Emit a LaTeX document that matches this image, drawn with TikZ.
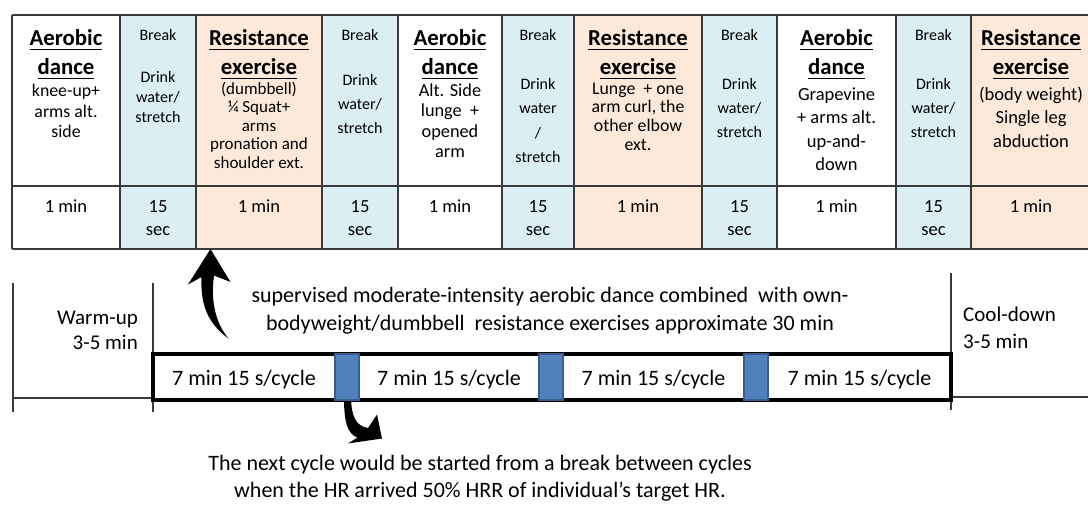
\documentclass[tikz,border=0pt]{standalone}
\usepackage{fontspec}
\setmainfont{Carlito}
\definecolor{brk}{HTML}{DAEEF3}
\definecolor{res}{HTML}{FDE9D9}
\definecolor{bfill}{HTML}{4F81BD}
\definecolor{bline}{HTML}{385D8A}
\definecolor{grid}{HTML}{3A3A3A}
\newcommand\fz[2]{\fontsize{#1}{#2}\selectfont}
\newcommand\st{\rule{0pt}{20pt}}
\newcommand\myul[1]{\setbox0\hbox{#1}\rlap{\rule[-5pt]{\wd0}{1.3pt}}\box0}
\tikzset{
  hd/.style={font=\fz{22.8}{29}\bfseries, align=center, anchor=north, inner sep=0pt},
  bd/.style={align=center, anchor=north, inner sep=0pt},
  brktxt/.style={bd, font=\fz{16}{20}},
  dur/.style={bd, font=\fz{18.5}{23}},
  gridline/.style={draw=grid, line width=1.4pt},
  thin/.style={draw=grid, line width=1.2pt},
  seg/.style={inner sep=0pt, anchor=north, font=\fz{22}{27}},
  brkblock/.style={fill=bfill, draw=bline, line width=1.5pt, minimum width=24pt, minimum height=46pt, inner sep=0pt},
  arrowshape/.style={fill=black, draw=none},
  txt/.style={align=center, anchor=north, inner sep=0pt, font=\fz{22}{28}}
}
\begin{document}
\begin{tikzpicture}[x=1pt,y=-1pt]
\useasboundingbox (0,0) rectangle (1088,504);
% ---- table fills
\fill[brk] (120,15) rectangle (196,249);
\fill[res] (196,15) rectangle (322,249);
\fill[brk] (322,15) rectangle (398,249);
\fill[brk] (502,15) rectangle (574,249);
\fill[res] (574,15) rectangle (702,249);
\fill[brk] (702,15) rectangle (777,249);
\fill[brk] (896,15) rectangle (971,249);
\fill[res] (971,15) rectangle (1088,249);
% ---- table grid
\draw[gridline] (12,15) -- (1088,15);
\draw[gridline] (12,186) -- (1088,186);
\draw[gridline] (12,249) -- (1088,249);
\foreach \x in {12,120,196,322,398,502,574,702,777,896,971}
  \draw[gridline] (\x,15) -- (\x,249);
% ---- column 0: aerobic
\node[hd] (h0) at (66,25) {\st\myul{Aerobic}\\\myul{dance}};
\node[bd, font=\fz{17.8}{20.5}] (t0) at (66,76.5) {\st knee-up+\\arms alt.\\side};
% ---- column 1: break
\node[brktxt] (k1) at (158,20) {\st Break};
\node[brktxt] (t1) at (158,62) {\st Drink\\water/\\stretch};
% ---- column 2: resistance
\node[hd] (h2) at (259,25) {\st\myul{Resistance}\\\myul{exercise}};
\node[bd, font=\fz{17}{18.5}] (t2) at (259,74) {\st (dumbbell)\\¼ Squat+\\arms\\pronation and\\shoulder ext.};
% ---- column 3: break
\node[brktxt] (k3) at (360,20) {\st Break};
\node[brktxt, font=\fz{16}{24}] (t3) at (360,65) {\st Drink\\water/\\stretch};
% ---- column 4: aerobic
\node[hd] (h4) at (450,25) {\st\myul{Aerobic}\\\myul{dance}};
\node[bd, font=\fz{18.3}{20.5}] (t4) at (450,76) {\st Alt. Side\\lunge\ \ +\\opened\\arm};
% ---- column 5: break
\node[brktxt] (k5) at (538,20) {\st Break};
\node[brktxt, font=\fz{16}{24.5}] (t5) at (538,69) {\st Drink\\water\\/\\stretch};
% ---- column 6: resistance
\node[hd] (h6) at (638,25) {\st\myul{Resistance}\\\myul{exercise}};
\node[bd, font=\fz{17.8}{18.7}] (t6) at (638,74) {\st Lunge\ \ + one\\arm curl, the\\other elbow\\ext.};
% ---- column 7: break
\node[brktxt] (k7) at (739.5,20) {\st Break};
\node[brktxt, font=\fz{16}{24}] (t7) at (739.5,69) {\st Drink\\water/\\stretch};
% ---- column 8: aerobic
\node[hd] (h8) at (836.5,25) {\st\myul{Aerobic}\\\myul{dance}};
\node[bd, font=\fz{18.5}{23.5}] (t8) at (836.5,80) {\st Grapevine\\+ arms alt.\\up-and-\\down};
% ---- column 9: break
\node[brktxt] (k9) at (933.5,20) {\st Break};
\node[brktxt, font=\fz{16}{24}] (t9) at (933.5,69) {\st Drink\\water/\\stretch};
% ---- column 10: resistance
\node[hd] (h10) at (1031,25) {\st\myul{Resistance}\\\myul{exercise}};
\node[bd, font=\fz{18.5}{23.5}] (t10) at (1031,80) {\st (body weight)\\Single leg\\abduction};
% ---- duration row
\node[dur] (d0) at (66,192) {\st 1 min};
\node[dur] (d1) at (158,192) {\st 15\\sec};
\node[dur] (d2) at (259,192) {\st 1 min};
\node[dur] (d3) at (360,192) {\st 15\\sec};
\node[dur] (d4) at (450,192) {\st 1 min};
\node[dur] (d5) at (538,192) {\st 15\\sec};
\node[dur] (d6) at (638,192) {\st 1 min};
\node[dur] (d7) at (739.5,192) {\st 15\\sec};
\node[dur] (d8) at (836.5,192) {\st 1 min};
\node[dur] (d9) at (933.5,192) {\st 15\\sec};
\node[dur] (d10) at (1031,192) {\st 1 min};
% ---- warm-up / cool-down frames
\draw[thin] (13,283) -- (13,412);
\draw[thin] (153,283) -- (153,412);
\draw[thin] (13,398) -- (153,398);
\draw[thin] (951,273) -- (951,410);
\draw[thin] (951,397) -- (1088,397);
\node[align=right, anchor=north east, inner sep=0pt, font=\fz{21}{25}] (warm) at (138,304) {\st Warm-up\\3-5 min};
\node[align=left, anchor=north west, inner sep=0pt, font=\fz{21}{27}] (cool) at (963,301) {\st Cool-down\\3-5 min};
% ---- middle text
\node[txt] (mid) at (550,282) {\st supervised moderate-intensity aerobic dance combined\ \ with own-\\bodyweight/dumbbell\ \ resistance exercises approximate 30 min};
% ---- bottom text
\node[txt, font=\fz{22}{27}] (note) at (480,450) {\st The next cycle would be started from a break between cycles\\when the HR arrived 50\% HRR of individual’s target HR.};
% ---- arrows
\coordinate (upTip) at (210.5,249);
\coordinate (dnTop) at (347.5,398);
\begin{scope}[shift={(upTip)}]
  \path[arrowshape] (0,0) -- (-22.5,35.5) -- (-9,28) .. controls (-10,52) and (-5,73) .. (18,89.5)
     .. controls (5,74) and (0,52) .. (3.5,26.5) -- (20,33) -- cycle;
\end{scope}
\begin{scope}[shift={(dnTop)}]
  \path[arrowshape] (-3.5,0) .. controls (-3.5,24) and (0,36) .. (10,39.5) -- (0.5,45.5) -- (34.5,40.5)
     -- (29.5,16.5) -- (20.5,30) .. controls (8,28) and (4,18) .. (3.5,0) -- cycle;
\end{scope}
% ---- bar
\node[seg] (s1) at (244,365) {\st 7 min 15 s/cycle};
\node[seg] (s2) at (449,365) {\st 7 min 15 s/cycle};
\node[seg] (s3) at (653.5,365) {\st 7 min 15 s/cycle};
\node[seg] (s4) at (859.5,365) {\st 7 min 15 s/cycle};
\draw[line width=3.5pt, black] (153,354) rectangle (951,400);
\node[brkblock] (b1) at (347,377) {};
\node[brkblock] (b2) at (551,377) {};
\node[brkblock] (b3) at (756,377) {};
\end{tikzpicture}
\end{document}
